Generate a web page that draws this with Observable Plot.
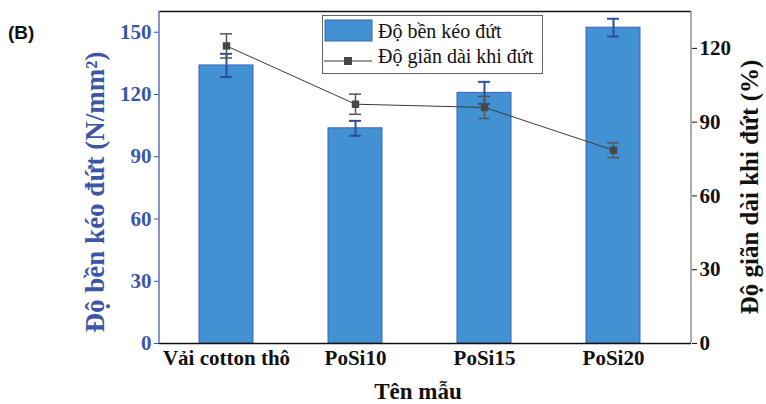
<!DOCTYPE html>
<html>
<head>
<meta charset="utf-8">
<script src="https://cdn.jsdelivr.net/npm/d3@7"></script>
<script src="https://cdn.jsdelivr.net/npm/@observablehq/plot@0.6"></script>
<style>
  body { margin: 0; background: #fff; }
  #wrap { position: relative; width: 766px; height: 404px; }
  #tag { position: absolute; left: 8px; top: 22px; font: bold 19px "Liberation Sans", Arial, sans-serif; color: #111; }
</style>
</head>
<body>
<div id="wrap"><div id="tag">(B)</div></div>
<script>
const samples = ["Vải cotton thô", "PoSi10", "PoSi15", "PoSi20"];
const strength = [134, 103.7, 120.8, 152.2];
const strengthErr = [5.6, 3.6, 5.3, 4.3];
const elongation = [121, 97.3, 96, 78.6];
const elongationErr = [4.9, 4.1, 4.5, 3];
const leftTicks = [0, 30, 60, 90, 120, 150];
const rightTicks = [0, 30, 60, 90, 120];
const leftTitle = "Độ bền kéo đứt (N/mm²)";
const rightTitle = "Độ giãn dài khi đứt (%)";
const xTitle = "Tên mẫu";
const legendLabels = ["Độ bền kéo đứt", "Độ giãn dài khi đứt"];

const leftMax = 160;
const rightMax = 135;
const k = leftMax / rightMax; // right-axis value -> left scale

const rows = samples.map((s, i) => ({
  s, v: strength[i], e: strengthErr[i],
  r: elongation[i] * k, re: elongationErr[i] * k
}));

const serif = "Liberation Serif, Times New Roman, serif";
const blueText = "#3b56a6";

const chart = Plot.plot({
  width: 766, height: 404,
  marginLeft: 159, marginRight: 75, marginTop: 11, marginBottom: 61,
  style: { fontFamily: serif, fontSize: "21px", fontWeight: "bold", background: "#fff" },
  x: { type: "band", domain: samples, range: [160.4, 677.6], paddingInner: 0.582, paddingOuter: 0.291 },
  y: { domain: [0, leftMax] },
  marks: [
    Plot.barY(rows, { x: "s", y: "v", fill: "#4292d3", stroke: "#3d62b3", strokeWidth: 1 }),
    Plot.ruleX(rows, { x: "s", y1: d => d.v - d.e, y2: d => d.v + d.e, stroke: "#2f4d9e", strokeWidth: 2 }),
    Plot.tickY(rows, { x: "s", y: d => d.v - d.e, stroke: "#2f4d9e", strokeWidth: 2, inset: 21 }),
    Plot.tickY(rows, { x: "s", y: d => d.v + d.e, stroke: "#2f4d9e", strokeWidth: 2, inset: 21 }),
    Plot.lineY(rows, { x: "s", y: "r", stroke: "#3a3a3a", strokeWidth: 1 }),
    Plot.ruleX(rows, { x: "s", y1: d => d.r - d.re, y2: d => d.r + d.re, stroke: "#555", strokeWidth: 1.5 }),
    Plot.tickY(rows, { x: "s", y: d => d.r - d.re, stroke: "#555", strokeWidth: 1.5, inset: 21 }),
    Plot.tickY(rows, { x: "s", y: d => d.r + d.re, stroke: "#555", strokeWidth: 1.5, inset: 21 }),
    Plot.dot(rows, { x: "s", y: "r", symbol: "square", r: 4.2, fill: "#474747", stroke: "none" }),
    Plot.ruleY([0], { stroke: "#111", strokeWidth: 1.5 }),
    Plot.ruleY([leftMax], { stroke: "#111", strokeWidth: 1.5 }),
    Plot.axisY({ anchor: "left", ticks: leftTicks, tickSize: 5, tickPadding: 3, color: blueText, label: null, fontSize: 21 }),
    Plot.axisY({ anchor: "right", ticks: rightTicks.map(v => v * k), tickFormat: d => Math.round(d / k), tickSize: 5, tickPadding: 3, color: "#111", label: null, fontSize: 21 }),
    Plot.axisX({ tickSize: 0, tickPadding: 7, label: null, color: "#111", fontSize: 21 })
  ]
});

document.getElementById("wrap").appendChild(chart);

const svg = d3.select(chart);
const L = 159, R = 766 - 75, T = 11, B = 404 - 61;
// side axis lines
svg.append("line").attr("x1", L).attr("x2", L).attr("y1", T).attr("y2", B).attr("stroke", "#5a72bd").attr("stroke-width", 1.5);
svg.append("line").attr("x1", R).attr("x2", R).attr("y1", T).attr("y2", B).attr("stroke", "#777").attr("stroke-width", 1.2);

function txt(sel, size, weight, fill) {
  return sel.attr("font-family", serif).attr("font-size", size).attr("font-weight", weight).attr("fill", fill);
}
// axis titles
txt(svg.append("text").attr("transform", `translate(98,${(T + B) / 2 + 15}) rotate(-90)`)
  .attr("text-anchor", "middle").attr("dominant-baseline", "middle"), 27, "bold", blueText).text(leftTitle);
txt(svg.append("text").attr("transform", `translate(752,${(T + B) / 2 + 10}) rotate(-90)`)
  .attr("text-anchor", "middle").attr("dominant-baseline", "middle"), 25, "bold", "#111").text(rightTitle);
txt(svg.append("text").attr("x", 418).attr("y", 399).attr("text-anchor", "middle"), 23, "bold", "#111").text(xTitle);

// legend
const lg = svg.append("g");
lg.append("rect").attr("x", 322.5).attr("y", 15.5).attr("width", 220).attr("height", 58).attr("fill", "#fff").attr("stroke", "#666");
lg.append("rect").attr("x", 325).attr("y", 20).attr("width", 47).attr("height", 21).attr("fill", "#4292d3").attr("stroke", "#3d62b3");
lg.append("line").attr("x1", 324).attr("x2", 372).attr("y1", 61).attr("y2", 61).attr("stroke", "#3a3a3a").attr("stroke-width", 1);
lg.append("rect").attr("x", 344).attr("y", 57).attr("width", 8).attr("height", 8).attr("fill", "#474747");
txt(lg.selectAll("text.l").data(legendLabels).join("text")
  .attr("x", 378).attr("y", (d, i) => 38 + i * 25).attr("text-anchor", "start"), 20, "normal", "#111").text(d => d);
</script>
</body>
</html>
